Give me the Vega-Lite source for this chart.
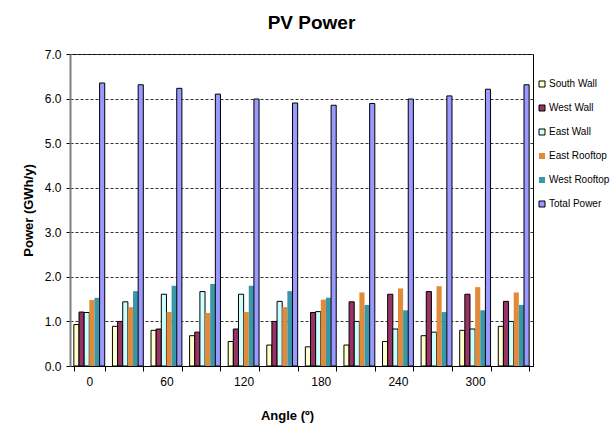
{
  "$schema": "https://vega.github.io/schema/vega-lite/v6.json",
  "autosize": "none",
  "width": 463,
  "height": 312,
  "padding": {"left": 70, "top": 54, "right": 82, "bottom": 64},
  "background": "white",
  "title": {
    "text": "PV Power",
    "font": "Liberation Sans, Arial, sans-serif",
    "fontSize": 19,
    "fontWeight": "bold",
    "color": "#000",
    "anchor": "middle",
    "dx": 10,
    "offset": 15
  },
  "config": {
    "font": "Liberation Sans, Arial, sans-serif",
    "view": {"stroke": "#000", "strokeWidth": 1}
  },
  "data": {
    "values": [
      {"angle": 0, "series": "South Wall", "value": 0.93},
      {"angle": 0, "series": "West Wall", "value": 1.21},
      {"angle": 0, "series": "East Wall", "value": 1.20},
      {"angle": 0, "series": "East Rooftop", "value": 1.48},
      {"angle": 0, "series": "West Rooftop", "value": 1.53},
      {"angle": 0, "series": "Total Power", "value": 6.35},
      {"angle": 30, "series": "South Wall", "value": 0.89},
      {"angle": 30, "series": "West Wall", "value": 1.00},
      {"angle": 30, "series": "East Wall", "value": 1.44},
      {"angle": 30, "series": "East Rooftop", "value": 1.32},
      {"angle": 30, "series": "West Rooftop", "value": 1.68},
      {"angle": 30, "series": "Total Power", "value": 6.31},
      {"angle": 60, "series": "South Wall", "value": 0.80},
      {"angle": 60, "series": "West Wall", "value": 0.83},
      {"angle": 60, "series": "East Wall", "value": 1.61},
      {"angle": 60, "series": "East Rooftop", "value": 1.21},
      {"angle": 60, "series": "West Rooftop", "value": 1.80},
      {"angle": 60, "series": "Total Power", "value": 6.23},
      {"angle": 90, "series": "South Wall", "value": 0.68},
      {"angle": 90, "series": "West Wall", "value": 0.76},
      {"angle": 90, "series": "East Wall", "value": 1.67},
      {"angle": 90, "series": "East Rooftop", "value": 1.19},
      {"angle": 90, "series": "West Rooftop", "value": 1.84},
      {"angle": 90, "series": "Total Power", "value": 6.10},
      {"angle": 120, "series": "South Wall", "value": 0.55},
      {"angle": 120, "series": "West Wall", "value": 0.83},
      {"angle": 120, "series": "East Wall", "value": 1.61},
      {"angle": 120, "series": "East Rooftop", "value": 1.21},
      {"angle": 120, "series": "West Rooftop", "value": 1.80},
      {"angle": 120, "series": "Total Power", "value": 5.99},
      {"angle": 150, "series": "South Wall", "value": 0.47},
      {"angle": 150, "series": "West Wall", "value": 1.00},
      {"angle": 150, "series": "East Wall", "value": 1.45},
      {"angle": 150, "series": "East Rooftop", "value": 1.32},
      {"angle": 150, "series": "West Rooftop", "value": 1.68},
      {"angle": 150, "series": "Total Power", "value": 5.90},
      {"angle": 180, "series": "South Wall", "value": 0.43},
      {"angle": 180, "series": "West Wall", "value": 1.20},
      {"angle": 180, "series": "East Wall", "value": 1.22},
      {"angle": 180, "series": "East Rooftop", "value": 1.49},
      {"angle": 180, "series": "West Rooftop", "value": 1.53},
      {"angle": 180, "series": "Total Power", "value": 5.85},
      {"angle": 210, "series": "South Wall", "value": 0.47},
      {"angle": 210, "series": "West Wall", "value": 1.44},
      {"angle": 210, "series": "East Wall", "value": 1.00},
      {"angle": 210, "series": "East Rooftop", "value": 1.65},
      {"angle": 210, "series": "West Rooftop", "value": 1.37},
      {"angle": 210, "series": "Total Power", "value": 5.89},
      {"angle": 240, "series": "South Wall", "value": 0.55},
      {"angle": 240, "series": "West Wall", "value": 1.61},
      {"angle": 240, "series": "East Wall", "value": 0.83},
      {"angle": 240, "series": "East Rooftop", "value": 1.74},
      {"angle": 240, "series": "West Rooftop", "value": 1.25},
      {"angle": 240, "series": "Total Power", "value": 5.99},
      {"angle": 270, "series": "South Wall", "value": 0.68},
      {"angle": 270, "series": "West Wall", "value": 1.67},
      {"angle": 270, "series": "East Wall", "value": 0.76},
      {"angle": 270, "series": "East Rooftop", "value": 1.79},
      {"angle": 270, "series": "West Rooftop", "value": 1.21},
      {"angle": 270, "series": "Total Power", "value": 6.06},
      {"angle": 300, "series": "South Wall", "value": 0.80},
      {"angle": 300, "series": "West Wall", "value": 1.61},
      {"angle": 300, "series": "East Wall", "value": 0.83},
      {"angle": 300, "series": "East Rooftop", "value": 1.77},
      {"angle": 300, "series": "West Rooftop", "value": 1.25},
      {"angle": 300, "series": "Total Power", "value": 6.21},
      {"angle": 330, "series": "South Wall", "value": 0.89},
      {"angle": 330, "series": "West Wall", "value": 1.45},
      {"angle": 330, "series": "East Wall", "value": 1.00},
      {"angle": 330, "series": "East Rooftop", "value": 1.65},
      {"angle": 330, "series": "West Rooftop", "value": 1.37},
      {"angle": 330, "series": "Total Power", "value": 6.31}
    ]
  },
  "mark": {"type": "bar", "strokeWidth": 1},
  "encoding": {
    "x": {
      "field": "angle",
      "type": "ordinal",
      "scale": {"paddingInner": 0.2, "paddingOuter": 0.1},
      "axis": {
        "title": "Angle (º)",
        "titleFontSize": 13,
        "titleFontWeight": "bold",
        "titleColor": "#000",
        "titleX": 217,
        "titleY": 49,
        "titleBaseline": "middle",
        "labelAngle": 0,
        "labelFontSize": 12,
        "labelColor": "#000",
        "labelPadding": 5,
        "labelExpr": "datum.value % 60 == 0 ? datum.label : ''",
        "tickBand": "extent",
        "tickSize": 5,
        "tickColor": "#000",
        "domainColor": "#000",
        "grid": false
      }
    },
    "xOffset": {
      "field": "series",
      "type": "nominal",
      "sort": ["South Wall", "West Wall", "East Wall", "East Rooftop", "West Rooftop", "Total Power"],
      "scale": {"paddingInner": 0, "paddingOuter": 0}
    },
    "y": {
      "field": "value",
      "type": "quantitative",
      "scale": {"domain": [0, 7], "nice": false},
      "axis": {
        "title": "Power (GWh/y)",
        "titleFontSize": 13,
        "titleFontWeight": "bold",
        "titleColor": "#000",
        "titleX": -42,
        "titleY": 156,
        "titleAngle": -90,
        "titleAlign": "center",
        "titleBaseline": "middle",
        "values": [0, 1, 2, 3, 4, 5, 6, 7],
        "format": ".1f",
        "labelFontSize": 12,
        "labelColor": "#000",
        "labelPadding": 5,
        "tickSize": 4,
        "tickColor": "#000",
        "domainColor": "#808080",
        "domainWidth": 2,
        "grid": true,
        "gridColor": "#333",
        "gridDash": [3, 2],
        "gridWidth": 1
      }
    },
    "fill": {
      "field": "series",
      "type": "nominal",
      "scale": {
        "domain": ["South Wall", "West Wall", "East Wall", "East Rooftop", "West Rooftop", "Total Power"],
        "range": ["#FFFFCC", "#993366", "#CCFFFF", "#E08A3C", "#3A97A8", "#9999FF"]
      },
      "legend": {
        "title": null,
        "orient": "none",
        "legendX": 467,
        "legendY": 25,
        "symbolType": "square",
        "symbolSize": 36,
        "symbolStrokeWidth": 1,
        "labelFontSize": 10,
        "labelColor": "#000",
        "labelOffset": 2,
        "labelLimit": 80,
        "rowPadding": 14,
        "padding": 0
      }
    },
    "stroke": {
      "field": "series",
      "type": "nominal",
      "scale": {
        "domain": ["South Wall", "West Wall", "East Wall", "East Rooftop", "West Rooftop", "Total Power"],
        "range": ["#000", "#000", "#000", "transparent", "transparent", "#000"]
      }
    }
  }
}
